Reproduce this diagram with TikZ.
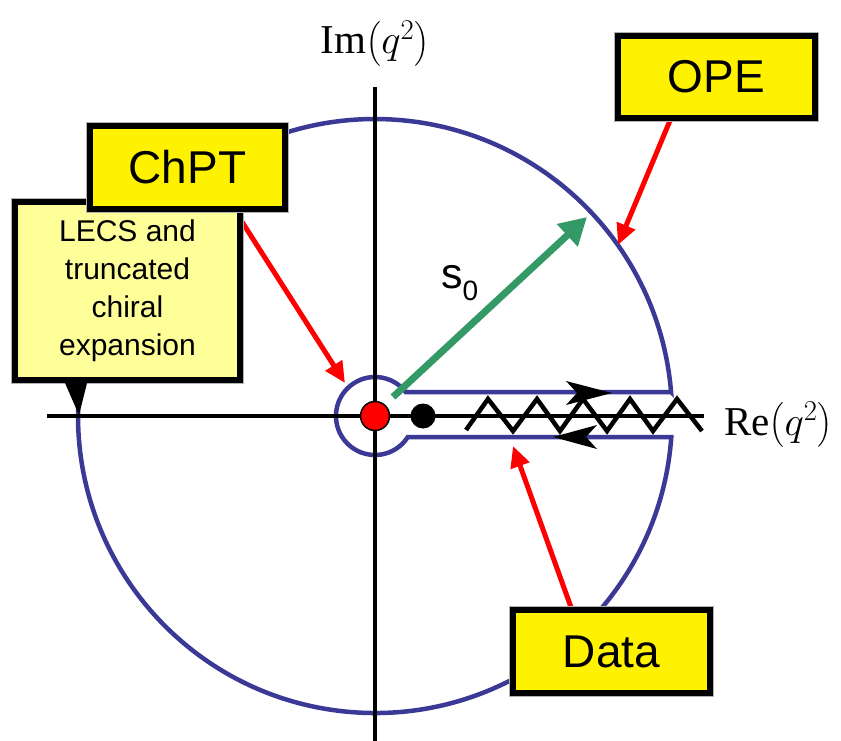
\RequirePackage{fix-cm}
\documentclass[tikz,border=0pt]{standalone}
\usepackage{amsmath}
\usepackage{fontspec}
\setsansfont{Liberation Sans}
\newfontfamily\tms{Liberation Serif}
\usetikzlibrary{arrows.meta,calc}
\definecolor{cblue}{RGB}{58,58,150}
\definecolor{cgreen}{RGB}{51,153,102}
\definecolor{lyellow}{RGB}{255,255,153}
\pgfdeclarelayer{bg}
\pgfdeclarelayer{mid}
\pgfsetlayers{bg,mid,main}
\tikzset{
  contour/.style={draw=cblue, line width=4.5pt, line join=miter},
  axis/.style={draw=black, line width=4.5pt},
  zig/.style={draw=black, line width=4.5pt, line join=miter},
  redarr/.style={draw=red, line width=5pt, -{Triangle[length=21pt,width=19pt]}},
  greenarr/.style={draw=cgreen, line width=7pt, -{Triangle[length=27pt,width=29pt]}},
  ybox/.style={draw=black, line width=6pt, fill=yellow, inner sep=0pt,
    font=\sffamily\fontsize{46}{46}\selectfont,
    preaction={draw=gray!60, line width=7.5pt}},
  lbox/.style={draw=black, line width=6pt, fill=lyellow, inner sep=0pt, align=center,
    font=\sffamily\fontsize{30}{38}\selectfont,
    preaction={draw=gray!60, line width=7.5pt}},
  axlabel/.style={inner sep=0pt, font=\fontsize{41}{41}\selectfont}
}
\begin{document}
\begin{tikzpicture}[x=1pt,y=1pt]
\useasboundingbox (0,0) rectangle (841,-741);
\coordinate (O) at (375,-416);

\begin{pgfonlayer}{bg}
% contour
\draw[contour] (671,-392) -- (405.7,-392)
  arc[start angle=38, end angle=327.4, radius=39]
  -- (671.3,-437)
  arc[start angle=-4.05, end angle=-355.37, radius=297] -- cycle;
% axes
\coordinate (xl) at (47,-416);
\coordinate (xr) at (704,-416);
\coordinate (yt) at (375,-87);
\coordinate (yb) at (375,-741);
\draw[axis] (xl) -- (xr);
\draw[axis] (yt) -- (yb);
% zigzag cut
\draw[zig] (466,-430) -- (488,-399) -- (513,-431) -- (537,-399) -- (560,-431)
  -- (583,-399) -- (607,-431) -- (630,-399) -- (653,-431) -- (677,-399) -- (702,-431);
% direction arrows on the contour
\fill[black] (612,-393) -- (566,-381) -- (577,-393) -- (566,-405) -- cycle;
\fill[black] (553,-437) -- (597,-425) -- (586,-437) -- (597,-449) -- cycle;
% points
\node[circle, fill=red, draw=black, line width=1.5pt, minimum size=29pt, inner sep=0pt] (pole) at (O) {};
\node[circle, fill=black, minimum size=25pt, inner sep=0pt] (thr) at (423,-416) {};
% radius arrow
\coordinate (gstart) at (393,-397);
\coordinate (gtip) at (587,-217);
\draw[greenarr] (gstart) -- (gtip);
\node[anchor=base west, inner sep=0pt, font=\sffamily\fontsize{43}{43}\selectfont] (s0) at (441,-288)
  {s\raisebox{-12pt}{\fontsize{28}{28}\selectfont 0}};
% axis labels
\node[axlabel, anchor=base] (im) at (375,-54) {{\tms Im}$\bigl(q^{2}\bigr)$};
\node[axlabel, anchor=base west] (re) at (724,-435) {{\tms Re}$\bigl(q^{2}\bigr)$};
\end{pgfonlayer}

% boxes
\node[lbox, minimum width=225pt, minimum height=178pt] (lecs) at (127.5,-291)
  {LECS and\\truncated\\chiral\\expansion};
\coordinate (lecstip) at (79,-415);
\fill[black] ($(lecs.south west)+(53,0)$) -- ($(lecs.south west)+(75,0)$) -- (lecstip) -- cycle;
\node[ybox, minimum width=195pt, minimum height=83pt] (chpt) at (187.5,-167.5) {ChPT};
\node[ybox, minimum width=197pt, minimum height=82pt] (ope) at (716.5,-77) {OPE};
\node[ybox, minimum width=197pt, minimum height=83pt] (data) at (611.5,-651.5) {Data};

% pointer arrows
\coordinate (opetip) at (618,-245);
\coordinate (chpttip) at (345,-383);
\coordinate (datatip) at (513,-446);
\begin{pgfonlayer}{mid}
\draw[redarr] ($(ope.south west)!0.27!(ope.south east)$) -- (opetip);
\draw[redarr] ($(chpt.south west)!0.74!(chpt.south east)$) -- (chpttip);
\draw[redarr] ($(data.north west)!0.3!(data.north east)$) -- (datatip);
\end{pgfonlayer}
\end{tikzpicture}
\end{document}
